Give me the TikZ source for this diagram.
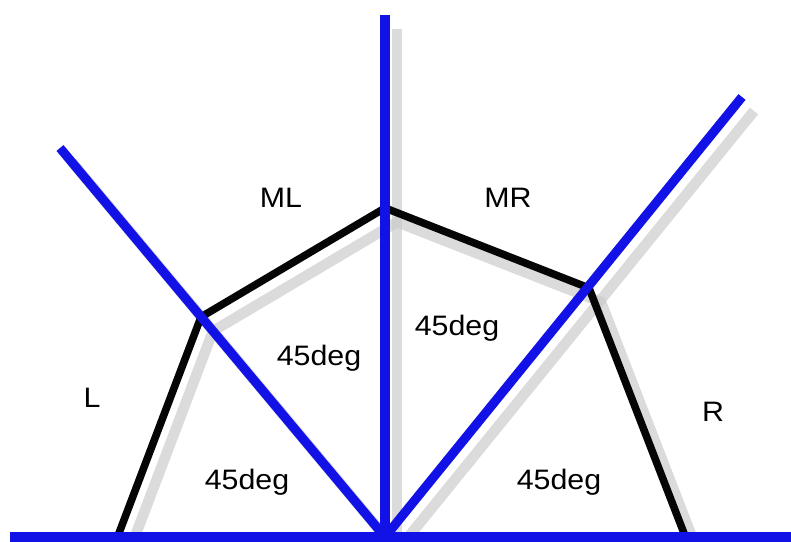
\documentclass[tikz,border=0pt]{standalone}
\usepackage{fontspec}
\setmainfont{Liberation Sans}
\usepackage{tikz}
\usetikzlibrary{calc}
\usepackage{xcolor}
\definecolor{RayBlue}{HTML}{1212E6}
\definecolor{HullBlack}{HTML}{050505}
\definecolor{RayShadow}{HTML}{C8C8C8}

\begin{document}
\begin{tikzpicture}[x=0.02cm,y=-0.02cm,
    ray/.style={RayBlue,line width=5.2pt},
    hull/.style={HullBlack,line width=4.3pt,line join=miter},
    shade/.style={RayShadow,line width=6pt,opacity=0.65,transform canvas={shift={(12,14)}}},
    tag/.style={font=\fontsize{16}{18}\selectfont,text=black,inner sep=0pt,xscale=1.08}]
  \useasboundingbox (0,0) rectangle (791,541);
  % ray end points and hull corners
  \coordinate (O) at (385,537);
  \coordinate (up) at (385,15);
  \coordinate (lt) at (60,148);
  \coordinate (rt) at (742,97);
  \coordinate (west) at (10,537);
  \coordinate (east) at (791,537);
  \coordinate (h1) at (116,541);
  \coordinate (h2) at (201,317);
  \coordinate (h3) at (385,208);
  \coordinate (h4) at (589,288);
  \coordinate (h5) at (687,541);
  % soft shadows
  \draw[shade] (h1) -- (h2) -- (h3) -- (h4) -- (h5);
  \draw[shade] (O) -- (up);
  \draw[shade] (O) -- (lt);
  \draw[shade] (O) -- (rt);
  % hull
  \draw[hull] (h1) -- (h2) -- (h3) -- (h4) -- (h5);
  % rays
  \draw[ray] (west) -- (east);
  \draw[ray] (O) -- (up);
  \draw[ray] (O) -- (lt);
  \draw[ray] (O) -- (rt);
  % labels
  \node[tag] (ml) at (281,198) {ML};
  \node[tag] (mr) at (508,198) {MR};
  \node[tag] (l) at (92,398) {L};
  \node[tag] (r) at (713,412) {R};
  \node[tag] (a1) at (319,358) {45deg};
  \node[tag] (a2) at (457,328) {45deg};
  \node[tag] (a3) at (247,482) {45deg};
  \node[tag] (a4) at (559,482) {45deg};
\end{tikzpicture}
\end{document}
